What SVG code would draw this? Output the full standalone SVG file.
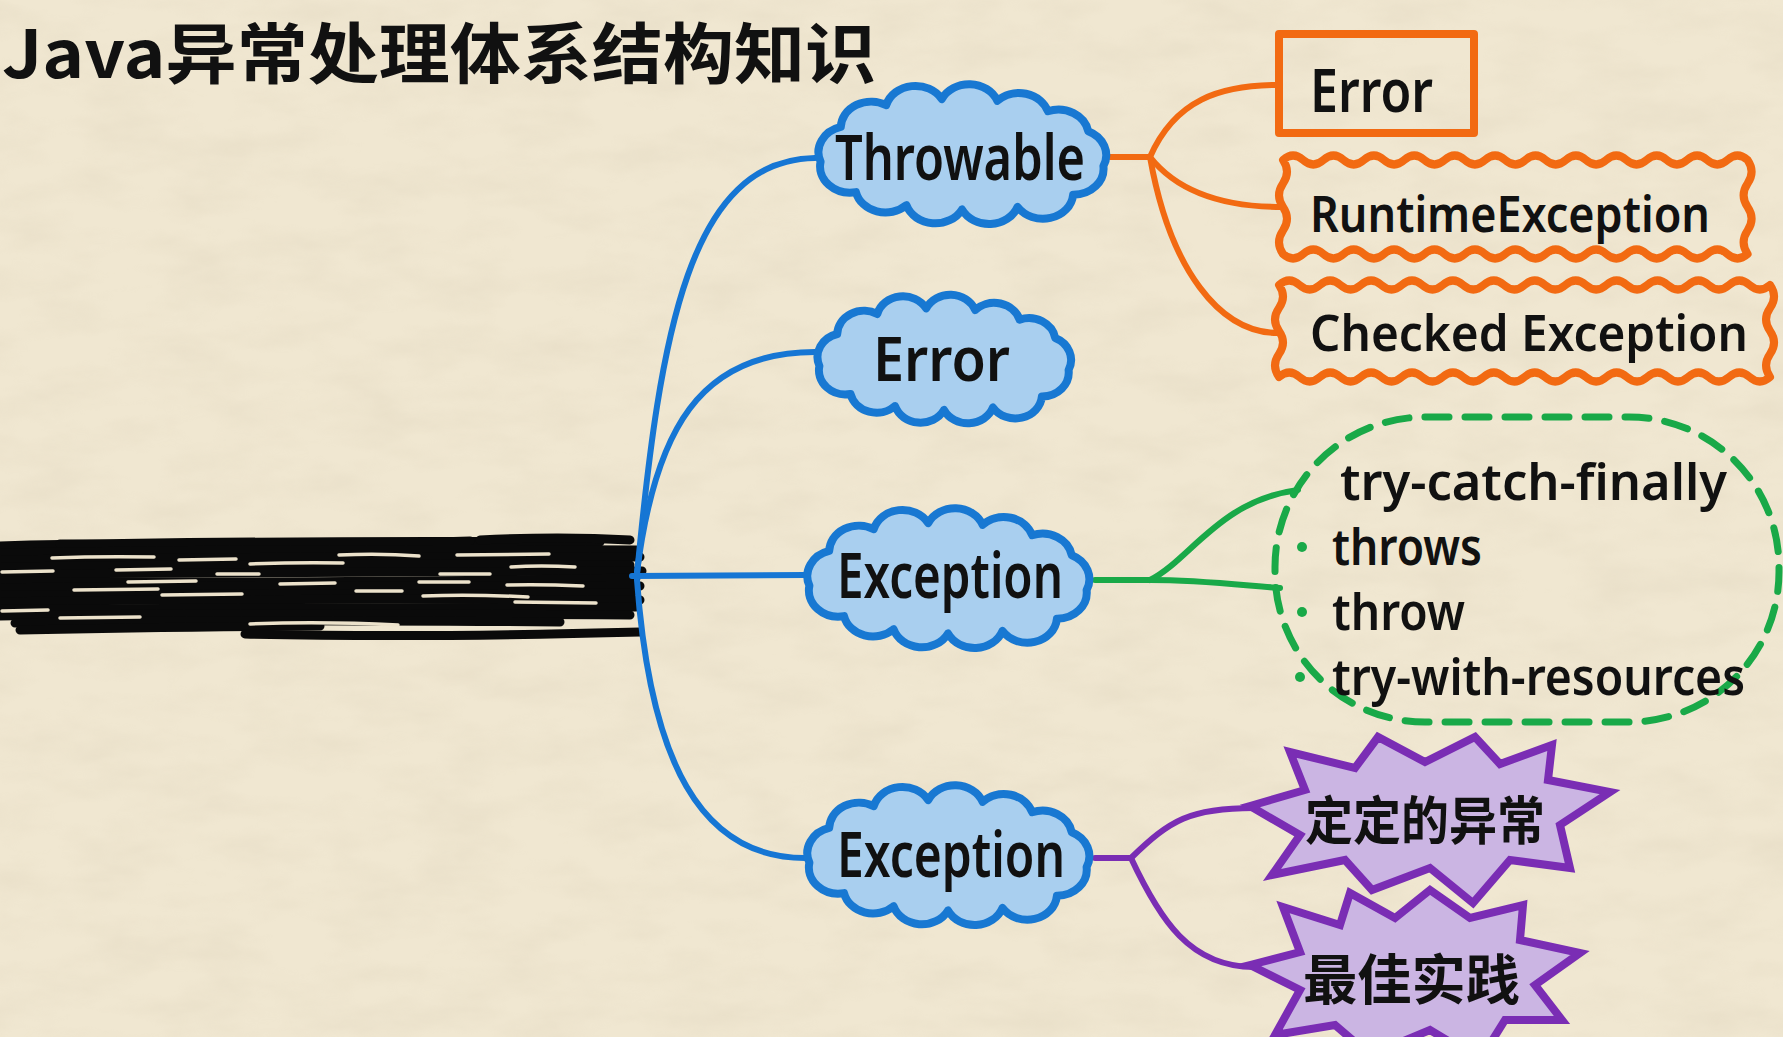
<svg xmlns="http://www.w3.org/2000/svg" xmlns:xlink="http://www.w3.org/1999/xlink" width="1783" height="1037" viewBox="0 0 1783 1037">
<style>
.lat{font-family:"Noto Sans","Open Sans","DejaVu Sans",sans-serif;font-weight:600;fill:#111}
.cjk{font-family:"Noto Sans CJK SC","Noto Sans",sans-serif;font-weight:700;fill:#111}
.cloud{fill:#a9cfef;stroke:#1878d2;stroke-width:8;stroke-linejoin:round}
.blue{fill:none;stroke:#1676d4;stroke-width:6;stroke-linecap:round}
.orange{fill:none;stroke:#f26a12;stroke-width:6;stroke-linecap:round}
.green{fill:none;stroke:#19a948;stroke-width:6;stroke-linecap:round}
.purple{fill:none;stroke:#7a2db4;stroke-width:6;stroke-linecap:round}
.obox{fill:none;stroke:#f26a12;stroke-width:8;stroke-linejoin:round}
.star{fill:#cbb5e3;stroke:#7a2db4;stroke-width:8;stroke-linejoin:miter}
.gap{stroke:#ece2cb;stroke-width:3.5;stroke-linecap:round;fill:none}
</style>
<defs>
<filter id="paper" x="0" y="0" width="100%" height="100%">
<feTurbulence type="fractalNoise" baseFrequency="0.012 0.03" numOctaves="4" seed="7" result="n"/>
<feColorMatrix in="n" type="matrix" values="0 0 0 0 0.6  0 0 0 0 0.52  0 0 0 0 0.38  0 0 0 -1.2 0.75"/>
</filter>
<path id="cloud" vector-effect="non-scaling-stroke" d="M -140 10 A 30 30 0 0 1 -120 -30 A 30 30 0 0 1 -75 -55 A 30 30 0 0 1 -20 -62 A 30 30 0 0 1 35 -60 A 30 30 0 0 1 85 -48 A 30 30 0 0 1 125 -25 A 30 30 0 0 1 140 15 A 30 30 0 0 1 110 48 A 30 30 0 0 1 55 62 A 30 30 0 0 1 0 65 A 30 30 0 0 1 -55 60 A 30 30 0 0 1 -105 45 A 30 30 0 0 1 -140 10 Z"/>
</defs>
<rect width="1783" height="1037" fill="#f0e7d1"/>
<rect width="1783" height="1037" filter="url(#paper)" opacity="0.25"/>

<g id="title"><text class="cjk" x="2" y="78" font-size="66" textLength="874" lengthAdjust="spacingAndGlyphs">Java异常处理体系结构知识</text></g>

<g id="trunk" stroke="#0a0a0a" stroke-width="9" stroke-linecap="round" fill="none">
<path d="M -5 546 Q 250 540 600 542"/>
<path d="M 60 544 Q 300 546 470 541"/>
<path d="M -5 553 Q 300 548 636 550"/>
<path d="M -5 560 Q 280 556 640 557"/>
<path d="M -5 567 Q 320 563 630 565"/>
<path d="M -5 574 Q 260 572 642 571"/>
<path d="M -5 581 Q 300 584 636 578"/>
<path d="M -5 588 Q 240 585 640 586"/>
<path d="M -5 595 Q 300 593 632 593"/>
<path d="M -5 602 Q 260 598 640 600"/>
<path d="M -5 609 Q 280 607 636 607"/>
<path d="M -5 616 Q 220 612 630 615"/>
<path d="M 15 623 Q 200 619 560 622"/>
<path d="M 20 630 Q 150 627 320 626"/>
<path d="M 245 634 Q 420 638 640 632"/>
<path d="M 480 540 Q 560 536 630 540"/>
</g>
<g id="trunk-streaks">
<path class="gap" d="M 52 558 Q 100 556 154 557"/>
<path class="gap" d="M 179 560 L 236 559"/>
<path class="gap" d="M 339 555 Q 380 553 419 556"/>
<path class="gap" d="M 457 555 L 549 554"/>
<path class="gap" d="M 250 564 Q 300 562 343 563"/>
<path class="gap" d="M 2 572 L 53 571"/>
<path class="gap" d="M 116 570 L 171 569"/>
<path class="gap" d="M 217 574 L 259 574"/>
<path class="gap" d="M 440 574 L 490 574"/>
<path class="gap" d="M 511 567 Q 540 565 575 567"/>
<path class="gap" d="M 128 582 L 196 581"/>
<path class="gap" d="M 280 584 L 335 583"/>
<path class="gap" d="M 419 582 L 469 582"/>
<path class="gap" d="M 507 585 Q 540 584 583 586"/>
<path class="gap" d="M 74 590 L 158 589"/>
<path class="gap" d="M 162 595 L 242 594"/>
<path class="gap" d="M 356 591 L 402 591"/>
<path class="gap" d="M 423 596 Q 470 594 528 597"/>
<path class="gap" d="M 515 602 L 596 603"/>
<path class="gap" d="M 2 611 L 48 610"/>
<path class="gap" d="M 250 624 Q 320 621 398 625"/>
<path class="gap" d="M 60 618 L 140 617"/>
</g>

<g id="connectors">
<path class="blue" d="M 637 575 C 660 330 690 160 815 158"/>
<path class="blue" d="M 637 572 C 655 430 700 352 815 352"/>
<path class="blue" d="M 632 576 L 805 575"/>
<path class="blue" d="M 637 580 C 650 760 700 858 805 858"/>
<path class="orange" d="M 1110 157 L 1150 157"/>
<path class="orange" d="M 1150 157 C 1175 100 1220 85 1278 85"/>
<path class="orange" d="M 1150 157 C 1180 195 1230 207 1282 207"/>
<path class="orange" d="M 1150 157 C 1170 270 1220 333 1278 333"/>
<path class="green" d="M 1095 580 L 1150 580"/>
<path class="green" d="M 1150 580 C 1190 560 1220 500 1298 490"/>
<path class="green" d="M 1150 580 C 1200 580 1240 585 1280 588"/>
<path class="purple" d="M 1095 858 L 1131 858"/>
<path class="purple" d="M 1131 858 C 1170 820 1190 808 1254 808"/>
<path class="purple" d="M 1131 858 C 1160 920 1190 967 1254 967"/>
</g>

<g id="node-throwable">
<use xlink:href="#cloud" class="cloud" transform="translate(962 153) scale(1.01 0.87)"/>
<text class="lat" x="835" y="180" font-size="64" textLength="250" lengthAdjust="spacingAndGlyphs">Throwable</text>
</g>
<g id="node-error">
<use xlink:href="#cloud" class="cloud" transform="translate(944 358) scale(0.89 0.8)"/>
<text class="lat" x="873" y="381" font-size="62" textLength="137" lengthAdjust="spacingAndGlyphs">Error</text>
</g>
<g id="node-exception1">
<use xlink:href="#cloud" class="cloud" transform="translate(948 577) scale(0.99 0.87)"/>
<text class="lat" x="837" y="598" font-size="64" textLength="226" lengthAdjust="spacingAndGlyphs">Exception</text>
</g>
<g id="node-exception2">
<use xlink:href="#cloud" class="cloud" transform="translate(948 854) scale(0.99 0.87)"/>
<text class="lat" x="837" y="877" font-size="64" textLength="228" lengthAdjust="spacingAndGlyphs">Exception</text>
</g>

<g id="node-error-box">
<rect class="obox" x="1279" y="34" width="195" height="99"/>
<text class="lat" x="1310" y="112" font-size="60" textLength="123" lengthAdjust="spacingAndGlyphs">Error</text>
</g>
<g id="node-runtime">
<path class="obox" d="M 1283 160 q 10.1 -9 20.2 0 t 20.2 0 t 20.2 0 t 20.2 0 t 20.2 0 t 20.2 0 t 20.2 0 t 20.2 0 t 20.2 0 t 20.2 0 t 20.2 0 t 20.2 0 t 20.2 0 t 20.2 0 t 20.2 0 t 20.2 0 t 20.2 0 t 20.2 0 t 20.2 0 t 20.2 0 t 20.2 0 t 20.2 0 t 20.2 0 q 8 11.75 0 23.5 t 0 23.5 t 0 23.5 t 0 23.5 q -10.1 9 -20.2 0 t -20.2 0 t -20.2 0 t -20.2 0 t -20.2 0 t -20.2 0 t -20.2 0 t -20.2 0 t -20.2 0 t -20.2 0 t -20.2 0 t -20.2 0 t -20.2 0 t -20.2 0 t -20.2 0 t -20.2 0 t -20.2 0 t -20.2 0 t -20.2 0 t -20.2 0 t -20.2 0 t -20.2 0 t -20.2 0 q -8 -11.75 0 -23.5 t 0 -23.5 t 0 -23.5 t 0 -23.5 Z"/>
<text class="lat" x="1310" y="232" font-size="51" textLength="400" lengthAdjust="spacingAndGlyphs">RuntimeException</text>
</g>
<g id="node-checked">
<path class="obox" d="M 1279 285 q 10.23 -9 20.46 0 t 20.46 0 t 20.46 0 t 20.46 0 t 20.46 0 t 20.46 0 t 20.46 0 t 20.46 0 t 20.46 0 t 20.46 0 t 20.46 0 t 20.46 0 t 20.46 0 t 20.46 0 t 20.46 0 t 20.46 0 t 20.46 0 t 20.46 0 t 20.46 0 t 20.46 0 t 20.46 0 t 20.46 0 t 20.46 0 t 20.46 0 q 8 11.5 0 23 t 0 23 t 0 23 t 0 23 q -10.23 9 -20.46 0 t -20.46 0 t -20.46 0 t -20.46 0 t -20.46 0 t -20.46 0 t -20.46 0 t -20.46 0 t -20.46 0 t -20.46 0 t -20.46 0 t -20.46 0 t -20.46 0 t -20.46 0 t -20.46 0 t -20.46 0 t -20.46 0 t -20.46 0 t -20.46 0 t -20.46 0 t -20.46 0 t -20.46 0 t -20.46 0 t -20.46 0 q -8 -11.5 0 -23 t 0 -23 t 0 -23 t 0 -23 Z"/>
<text class="lat" x="1310" y="351" font-size="51" textLength="438" lengthAdjust="spacingAndGlyphs">Checked Exception</text>
</g>

<g id="node-handling">
<rect x="1275" y="417" width="504" height="305" rx="150" ry="150" fill="none" stroke="#19a948" stroke-width="7" stroke-dasharray="24 16" stroke-linecap="round"/>
<circle cx="1302" cy="547" r="5" fill="#19a948"/>
<circle cx="1302" cy="612" r="5" fill="#19a948"/>
<circle cx="1300" cy="677" r="5" fill="#19a948"/>
<text class="lat" x="1340" y="500" font-size="50" textLength="387" lengthAdjust="spacingAndGlyphs">try-catch-finally</text>
<text class="lat" x="1332" y="565" font-size="50" textLength="150" lengthAdjust="spacingAndGlyphs">throws</text>
<text class="lat" x="1332" y="630" font-size="50" textLength="133" lengthAdjust="spacingAndGlyphs">throw</text>
<text class="lat" x="1332" y="695" font-size="50" textLength="413" lengthAdjust="spacingAndGlyphs">try-with-resources</text>
</g>

<g id="node-custom">
<polygon class="star" points="1250,806 1305,790 1290,752 1355,768 1378,737 1425,762 1475,737 1500,764 1552,745 1548,780 1610,792 1560,825 1570,868 1510,860 1473,903 1430,868 1372,890 1345,860 1272,875 1300,835"/>
<text class="cjk" x="1305" y="840" font-size="52" textLength="240" lengthAdjust="spacingAndGlyphs">定定的异常</text>
</g>
<g id="node-best">
<polygon class="star" points="1250,965 1300,952 1283,907 1340,925 1350,893 1395,918 1430,890 1470,918 1523,905 1520,940 1580,953 1535,985 1562,1020 1505,1020 1480,1060 1430,1030 1370,1055 1335,1025 1275,1035 1300,990"/>
<text class="cjk" x="1303" y="1000" font-size="54" textLength="217" lengthAdjust="spacingAndGlyphs">最佳实践</text>
</g>
</svg>
